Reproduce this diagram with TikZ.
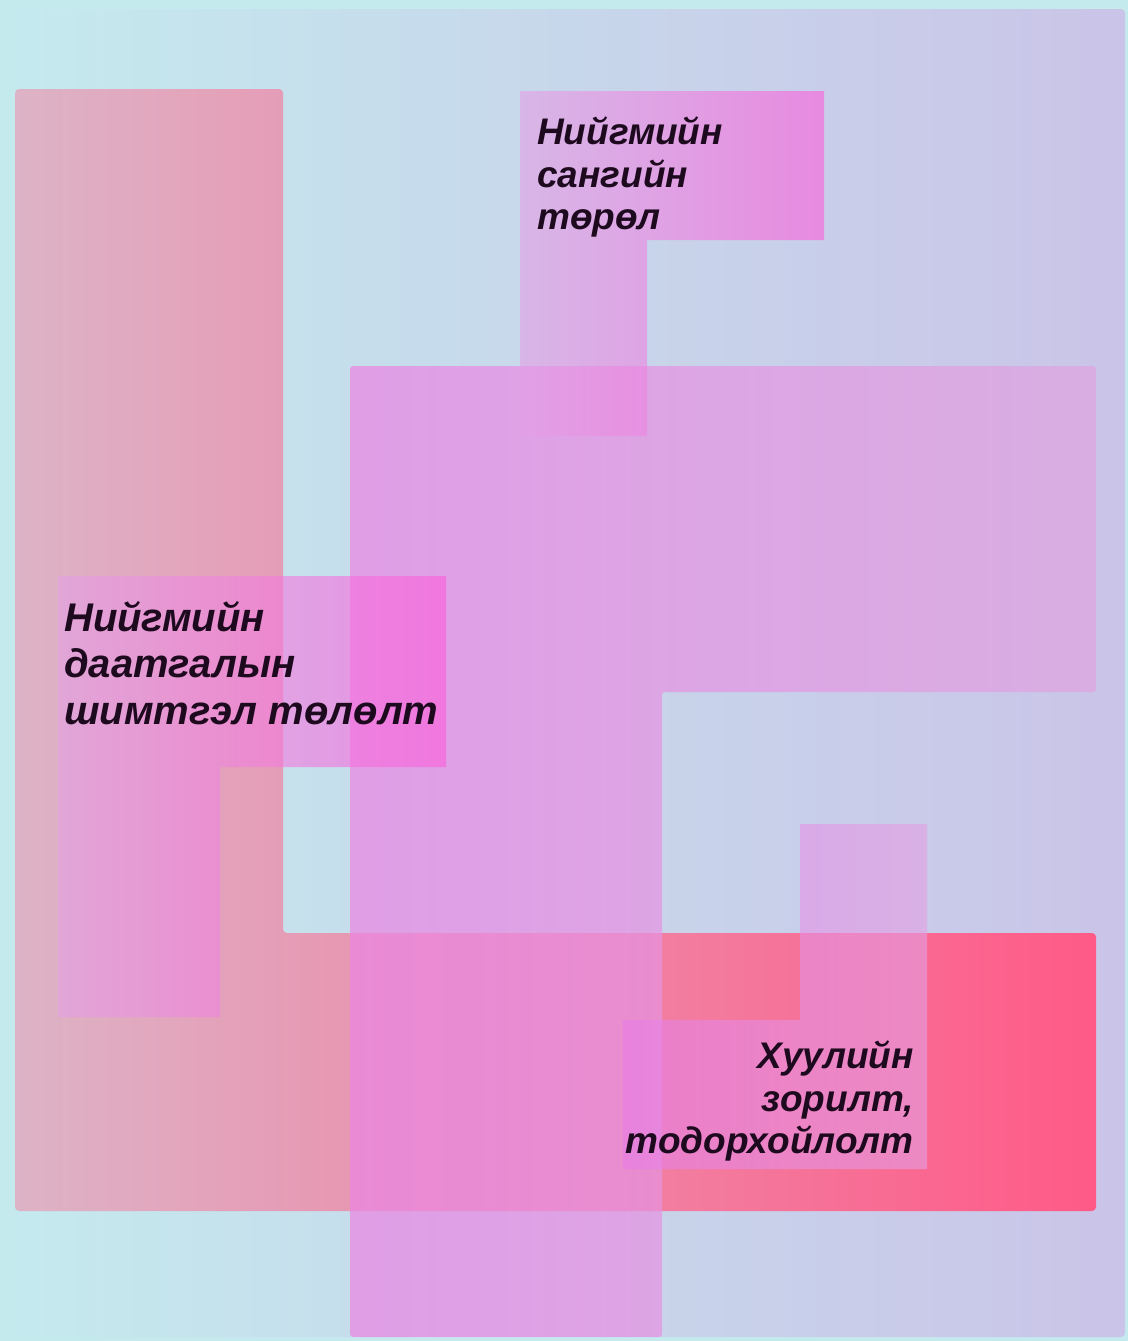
\documentclass[tikz,border=0pt]{standalone}
\usepackage{fontspec}
\setmainfont{Liberation Sans}
\definecolor{bgcyan}{HTML}{C4EAEE}
\definecolor{lav}{HTML}{CAC4E8}
\definecolor{pinkL}{HTML}{DDB3C6}
\definecolor{pinkR}{HTML}{FF5A87}
\definecolor{orchL}{HTML}{EB86E3}
\definecolor{orchR}{HTML}{DFA5E1}
\definecolor{smA}{HTML}{E4A0E5}
\definecolor{smB}{HTML}{FD5DDA}
\definecolor{smC}{HTML}{E87CE6}
\definecolor{txt}{HTML}{1E0A1E}
\tikzset{
  panel/.style={left color=bgcyan, right color=lav, rounded corners=4pt},
  pinkshape/.style={left color=pinkL, right color=pinkR, rounded corners=4pt},
  bigshape/.style={left color=orchL, right color=orchR, opacity=0.72, rounded corners=3pt},
  smallshape/.style={left color=smA, right color=smB, opacity=0.6},
  smallshaperev/.style={left color=smC, right color=smA, opacity=0.6},
  lbl/.style={font=\fontsize{37}{42.5}\selectfont\bfseries\itshape, text=txt, inner sep=0pt},
  lblbig/.style={font=\fontsize{40}{46.5}\selectfont\bfseries\itshape, text=txt, inner sep=0pt}
}
\begin{document}
\begin{tikzpicture}[x=1pt,y=-1pt]
\useasboundingbox (0,0) rectangle (1128,1341);
\fill[bgcyan] (0,0) rectangle (1128,1341);
\shade[panel] (0,9) rectangle (1125,1337);
% pink L shape
\shade[pinkshape] (15,89) -- (283,89) -- (283,933) -- (1096,933) -- (1096,1211) -- (15,1211) -- cycle;
% big orchid shape
\shade[bigshape] (350,366) -- (1096,366) -- (1096,692) -- (662,692) -- (662,1337) -- (350,1337) -- cycle;
% small shapes
\shade[smallshape] (520,91) -- (824,91) -- (824,240) -- (647,240) -- (647,436) -- (520,436) -- cycle;
\shade[smallshape] (58,576) -- (446,576) -- (446,767) -- (220,767) -- (220,1017) -- (58,1017) -- cycle;
\shade[smallshaperev] (800,824) -- (927,824) -- (927,1169) -- (623,1169) -- (623,1020) -- (800,1020) -- cycle;
% labels
\node[lbl, align=left, anchor=north west] (t1) at (537,117) {Нийгмийн\\сангийн\\төрөл};
\node[lblbig, align=left, anchor=north west] (t2) at (64,601) {Нийгмийн\\даатгалын\\шимтгэл төлөлт};
\node[lbl, align=right, anchor=north east] (t3) at (914,1041) {Хуулийн\\зорилт,\\тодорхойлолт};
\end{tikzpicture}
\end{document}
